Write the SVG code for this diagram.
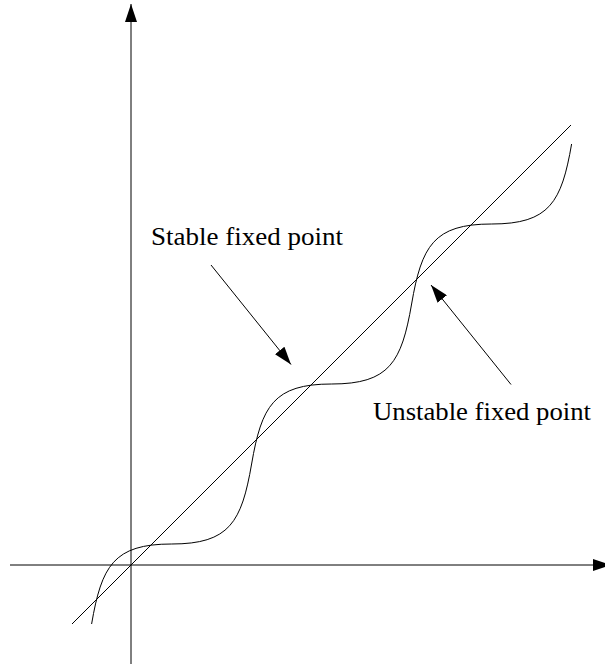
<svg xmlns="http://www.w3.org/2000/svg" width="605" height="664" viewBox="0 0 605 664">
  <style>
    .ln { fill: none; stroke: #000; stroke-width: 1; }
    .lbl { font-family: "Liberation Serif", "DejaVu Serif", serif; font-size: 25px; fill: #000; }
  </style>
  <defs>
    <marker id="ah" viewBox="0 0 18 12" refX="18" refY="6" markerWidth="18" markerHeight="12" markerUnits="userSpaceOnUse" orient="auto">
      <path d="M0,0 L18,6 L0,12 Z" fill="#000"/>
    </marker>
  </defs>
  <rect width="605" height="664" fill="#fff"/>
  <g id="connectors">
    <line id="y-axis" class="ln" x1="131" y1="664" x2="131" y2="4" marker-end="url(#ah)"/>
    <line id="x-axis" class="ln" x1="10" y1="565" x2="611" y2="565" marker-end="url(#ah)"/>
    <line id="arrow-stable" class="ln" x1="211" y1="265" x2="291" y2="364.5" marker-end="url(#ah)"/>
    <line id="arrow-unstable" class="ln" x1="511" y1="384.5" x2="431" y2="285" marker-end="url(#ah)"/>
  </g>
  <g id="diagonal">
    <line class="ln" x1="72" y1="624" x2="571" y2="125"/>
  </g>
  <g id="curve">
    <path class="ln" d="M91.6,624 c10,-58 22,-80 80,-80 c58,0 70,-22 80,-80 c10,-58 22,-80 80,-80 c58,0 70,-22 80,-80 c10,-58 22,-80 80,-80 c58,0 70,-22 80,-80"/>
  </g>
  <g id="label-stable">
    <text class="lbl" x="151" y="245" textLength="192" lengthAdjust="spacingAndGlyphs">Stable fixed point</text>
  </g>
  <g id="label-unstable">
    <text class="lbl" x="373" y="420" textLength="218" lengthAdjust="spacingAndGlyphs">Unstable fixed point</text>
  </g>
</svg>
